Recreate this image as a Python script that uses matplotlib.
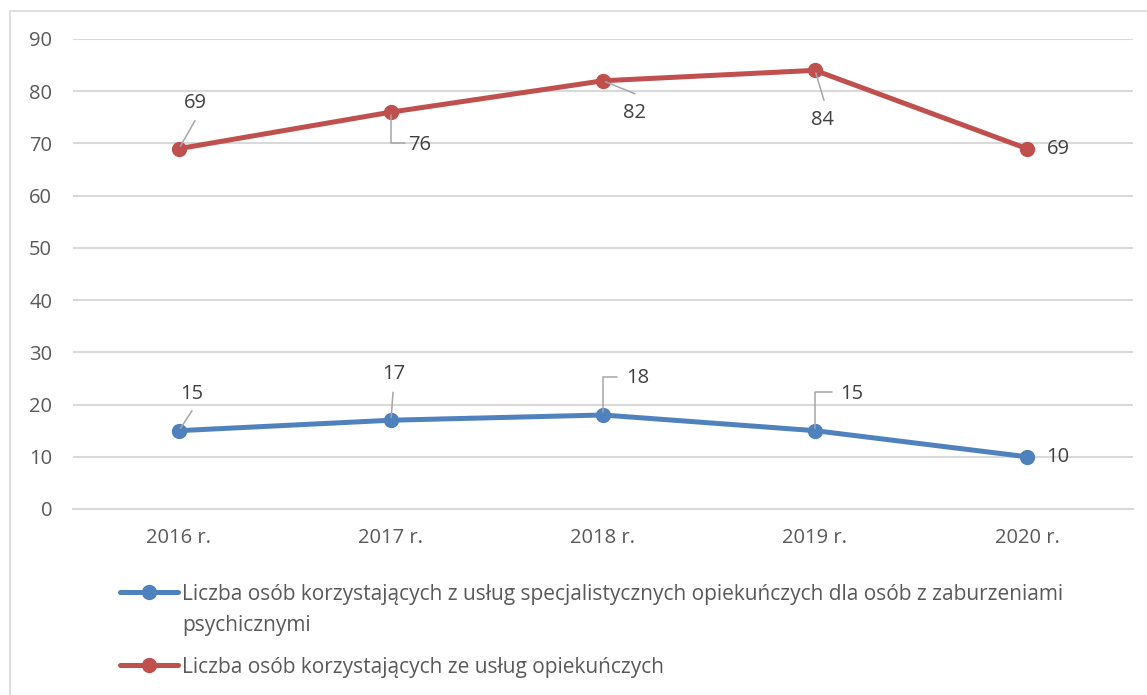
import matplotlib
matplotlib.use("Agg")
import matplotlib.pyplot as plt
from matplotlib.lines import Line2D
from matplotlib.patches import Rectangle

# ---------------------- dane ----------------------
years = ["2016 r.", "2017 r.", "2018 r.", "2019 r.", "2020 r."]
psych_values = [15, 17, 18, 15, 10]
care_values = [69, 76, 82, 84, 69]

psych_label = ("Liczba osób korzystających z usług specjalistycznych opiekuńczych dla osób z zaburzeniami\n"
               "psychicznymi")
care_label = "Liczba osób korzystających ze usług opiekuńczych"

# ---------------------- styl ----------------------
RED = "#C0504D"
BLUE = "#4F81BD"
TEXT = "#595959"
GRID = "#D9D9D9"
LEADER = "#A6A6A6"
FS = 14.5
FS_LEG = 15

plt.rcParams["font.family"] = ["Open Sans", "DejaVu Sans"]

# przesunięcia etykiet (px): tekst, koniec linii odniesienia, czy łamana
care_offsets = [((16, 46), (16, 28), False),
                ((29, -33), (14, -31), True),
                ((32, -32), (32, -13), False),
                ((8, -50), (9, -30), False),
                ((31, 0), None, False)]
psych_offsets = [((13, 37), (13, 20), False),
                 ((3, 46), (2, 28), False),
                 ((35, 37), (14, 38), True),
                 ((37, 37), (17, 39), True),
                 ((31, 0), None, False)]

W, H = 1147, 695
fig = plt.figure(figsize=(W / 100, H / 100), dpi=100)
fig.patch.set_facecolor("white")

# ramka wykresu
fig.add_artist(Rectangle((10 / W, -0.1), 1.2, 1 - 11 / H + 0.1, transform=fig.transFigure,
                         fill=False, edgecolor=GRID, linewidth=1.2))

ax = fig.add_axes([73 / W, 1 - 509 / H, 1060 / W, 470 / H])
x = list(range(len(years)))

ax.plot(x, psych_values, color=BLUE, linewidth=3.6, marker="o", markersize=10,
        solid_capstyle="round", zorder=3)
ax.plot(x, care_values, color=RED, linewidth=3.6, marker="o", markersize=10,
        solid_capstyle="round", zorder=3)

ax.set_xlim(-0.5, len(years) - 0.5)
ax.set_ylim(0, 90)
ax.set_yticks(range(0, 91, 10))
ax.set_xticks(x)
ax.set_xticklabels(years)
ax.tick_params(axis="both", length=0, labelsize=FS, labelcolor=TEXT)
ax.tick_params(axis="x", pad=14)
ax.tick_params(axis="y", pad=15)
ax.grid(axis="y", color=GRID, linewidth=1.5)
ax.set_axisbelow(True)
for side in ["top", "right", "left"]:
    ax.spines[side].set_visible(False)
ax.spines["bottom"].set_color(GRID)
ax.spines["bottom"].set_linewidth(1.5)


def add_labels(values, offsets):
    for i, (v, (txt_off, line_off, elbow)) in enumerate(zip(values, offsets)):
        ax.annotate(str(v), xy=(i, v), xytext=txt_off, textcoords="offset pixels",
                    ha="center", va="center", fontsize=FS, color="#404040", zorder=5)
        if line_off is None:
            continue
        style = "angle,angleA=0,angleB=90,rad=0" if elbow else "arc3"
        ax.annotate("", xy=(i, v), xytext=line_off, textcoords="offset pixels",
                    arrowprops=dict(arrowstyle="-", color=LEADER, linewidth=1.1,
                                    shrinkA=0, shrinkB=2, connectionstyle=style),
                    zorder=4)


add_labels(care_values, care_offsets)
add_labels(psych_values, psych_offsets)

# ---------------------- legenda ----------------------
for y_px, color, label in [(592, BLUE, psych_label), (665, RED, care_label)]:
    fy = 1 - y_px / H
    fig.add_artist(Line2D([120 / W, 178 / W], [fy, fy], transform=fig.transFigure,
                          color=color, linewidth=3.6, solid_capstyle="round"))
    fig.add_artist(Line2D([149 / W], [fy], transform=fig.transFigure, color=color,
                          marker="o", markersize=10))
    for k, line in enumerate(label.split("\n")):
        fig.text(182 / W, 1 - (y_px + 8 + 31 * k) / H, line, ha="left", va="baseline",
                 fontsize=FS_LEG, color=TEXT)

fig.savefig("out.png", dpi=100, facecolor="white")
